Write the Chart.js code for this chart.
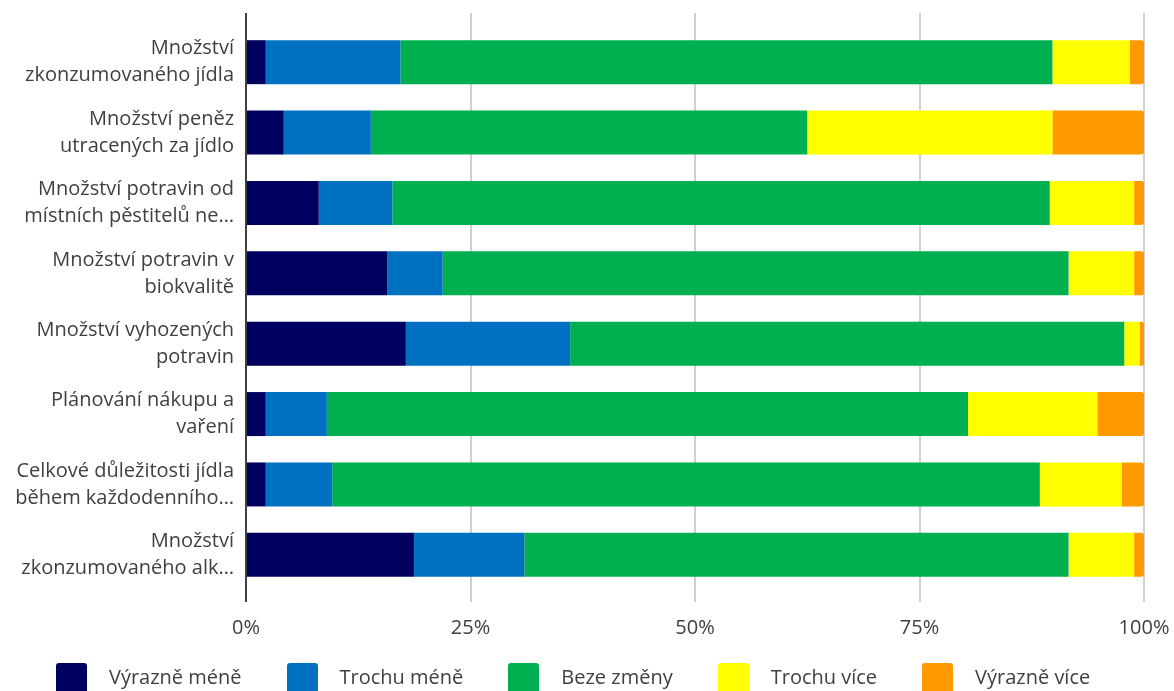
<!DOCTYPE html>
<html lang="cs">
<head>
<meta charset="utf-8">
<title>Změny ve stravování</title>
<script src="https://cdn.jsdelivr.net/npm/chart.js@4.4.1/dist/chart.umd.min.js"></script>
<style>
  html, body { margin: 0; padding: 0; background: #fff; overflow: hidden; }
  #wrap { position: relative; width: 1174px; height: 691px; }
  #legend {
    position: absolute; left: 56px; top: 663px;
    display: flex; font-family: "Open Sans", sans-serif; font-size: 20px; color: #404040;
  }
  .item { display: flex; align-items: flex-start; margin-right: 45px; }
  .box { width: 31px; height: 40px; border-radius: 3px; margin-right: 22px; }
  .lbl { line-height: 28px; white-space: nowrap; }
</style>
</head>
<body>
<div id="wrap">
  <canvas id="chart" width="1174" height="691"></canvas>
  <div id="legend"></div>
</div>
<script>
// categories (multi-line labels as in the picture)
const categories = [
  ["Množství", "zkonzumovaného jídla"],
  ["Množství peněz", "utracených za jídlo"],
  ["Množství potravin od", "místních pěstitelů ne…"],
  ["Množství potravin v", "biokvalitě"],
  ["Množství vyhozených", "potravin"],
  ["Plánování nákupu a", "vaření"],
  ["Celkové důležitosti jídla", "během každodenního…"],
  ["Množství", "zkonzumovaného alk…"]
];

const seriesNames = ["Výrazně méně", "Trochu méně", "Beze změny", "Trochu více", "Výrazně více"];
const seriesColors = ["#000060", "#0070C0", "#00B050", "#FFFF00", "#FF9900"];

// shares in %
const vyrazneMene = [2.2, 4.2, 8.1, 15.7, 17.8, 2.2, 2.2, 18.7];
const trochuMene  = [15.0, 9.7, 8.2, 6.2, 18.3, 6.8, 7.4, 12.3];
const bezeZmeny   = [72.6, 48.6, 73.2, 69.7, 61.7, 71.4, 78.8, 60.6];
const trochuVice  = [8.6, 27.3, 9.4, 7.3, 1.7, 14.4, 9.1, 7.3];
const vyrazneVice = [1.6, 10.2, 1.1, 1.1, 0.5, 5.2, 2.5, 1.1];

const tickValues = [0, 25, 50, 75, 100];

const seriesValues = [vyrazneMene, trochuMene, bezeZmeny, trochuVice, vyrazneVice];

// grid lines run a bit past the bar area, like in the original
const gridLines = {
  id: "gridLines",
  beforeDatasetsDraw(chart) {
    const { ctx, chartArea, scales: { x } } = chart;
    ctx.save();
    ctx.lineWidth = 2;
    ctx.strokeStyle = "#d0d0d0";
    tickValues.forEach(v => {
      if (v === 0) return;
      const px = Math.round(x.getPixelForValue(v));
      ctx.beginPath();
      ctx.moveTo(px, chartArea.top - 14);
      ctx.lineTo(px, chartArea.bottom + 12);
      ctx.stroke();
    });
    ctx.restore();
  },
  afterDatasetsDraw(chart) {
    const { ctx, chartArea, scales: { x } } = chart;
    const px = Math.round(x.getPixelForValue(0));
    ctx.save();
    ctx.lineWidth = 2;
    ctx.strokeStyle = "#404040";
    ctx.beginPath();
    ctx.moveTo(px, chartArea.top - 14);
    ctx.lineTo(px, chartArea.bottom + 12);
    ctx.stroke();
    ctx.restore();
  }
};

const datasets = seriesNames.map((name, i) => ({
  label: name,
  data: seriesValues[i],
  backgroundColor: seriesColors[i],
  borderWidth: 0,
  borderRadius: i === seriesNames.length - 1 ? 3 : 0,
  barPercentage: 0.625,
  categoryPercentage: 1
}));

Chart.defaults.font.family = "'Open Sans', sans-serif";
Chart.defaults.font.size = 20;
Chart.defaults.color = "#404040";

new Chart(document.getElementById("chart"), {
  type: "bar",
  data: { labels: categories, datasets },
  options: {
    indexAxis: "y",
    responsive: false,
    animation: false,
    layout: { padding: { top: 27, right: 30, left: 0, bottom: 0 } },
    plugins: { legend: { display: false }, tooltip: { enabled: false } },
    scales: {
      x: {
        stacked: true,
        min: 0,
        max: 100,
        afterBuildTicks: scale => { scale.ticks = tickValues.map(v => ({ value: v })); },
        afterFit: scale => {
          scale.height = 101;
          scale.paddingLeft = 0;
          scale.paddingRight = 0;
        },
        grid: { display: false, drawTicks: false },
        border: { display: false },
        ticks: { padding: 26, maxRotation: 0, autoSkip: false, callback: v => v + "%" }
      },
      y: {
        stacked: true,
        afterFit: scale => {
          scale.width = 246;
          scale.paddingTop = 0;
          scale.paddingBottom = 0;
        },
        grid: { display: false, drawTicks: false },
        border: { display: false },
        ticks: { padding: 12, font: { size: 20, lineHeight: 1.35 } }
      }
    }
  },
  plugins: [gridLines]
});

// legend built from the same series arrays
const legend = document.getElementById("legend");
seriesNames.forEach((name, i) => {
  const item = document.createElement("div");
  item.className = "item";
  item.innerHTML = `<div class="box" style="background:${seriesColors[i]}"></div><div class="lbl">${name}</div>`;
  legend.appendChild(item);
});
</script>
</body>
</html>
